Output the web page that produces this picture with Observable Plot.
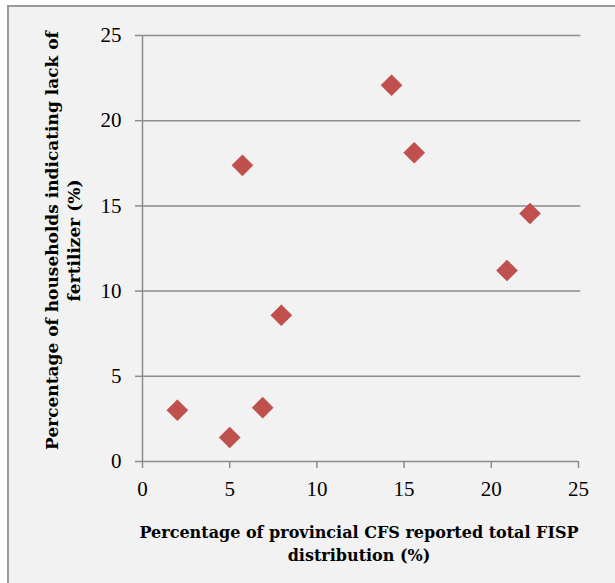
<!DOCTYPE html>
<html>
<head>
<meta charset="utf-8">
<script src="https://cdn.jsdelivr.net/npm/d3@7"></script>
<script src="https://cdn.jsdelivr.net/npm/@observablehq/plot@0.6"></script>
<style>
  html, body { margin: 0; padding: 0; background: #ffffff; }
  #chart { position: relative; width: 615px; height: 583px; }
</style>
</head>
<body>
<div id="chart"></div>
<script>
const distribution = [2.0, 5.0, 5.73, 6.89, 7.96, 14.28, 15.58, 20.9, 22.22];
const lackOfFertilizer = [3.01, 1.41, 17.38, 3.16, 8.58, 22.08, 18.12, 11.21, 14.55];
const xTicks = [0, 5, 10, 15, 20, 25];
const yTicks = [0, 5, 10, 15, 20, 25];
const xLabel = "Percentage of provincial CFS reported total FISP\ndistribution (%)";
const yLabel = "Percentage of households indicating lack of\nfertilizer (%)";

const data = distribution.map((x, i) => ({x, y: lackOfFertilizer[i]}));
const serif = "'Liberation Serif', 'DejaVu Serif', serif";
const labelFont = "'DejaVu Serif', 'Liberation Serif', serif";

const chart = Plot.plot({
  width: 615,
  height: 583,
  marginLeft: 142,
  marginRight: 37,
  marginTop: 35,
  marginBottom: 122,
  style: {fontFamily: serif, fontSize: "21px", background: "transparent", color: "#000"},
  x: {domain: [0, 25], ticks: xTicks, label: null},
  y: {domain: [0, 25], ticks: yTicks, label: null},
  marks: [
    Plot.ruleY(yTicks.filter(d => d > 0), {stroke: "#8c8c8c", strokeWidth: 1.5, x1: 0, x2: 25.13}),
    Plot.ruleX([0], {stroke: "#8c8c8c", strokeWidth: 1.5}),
    Plot.ruleY([0], {stroke: "#8c8c8c", strokeWidth: 1.5}),
    Plot.axisX({ticks: xTicks, tickSize: 7, tickPadding: 13, stroke: "#8c8c8c", strokeWidth: 1.5, fill: "#000", fontSize: 21, label: null}),
    Plot.axisY({ticks: yTicks, tickSize: 7, tickPadding: 14, stroke: "#8c8c8c", strokeWidth: 1.5, fill: "#000", fontSize: 21, label: null}),
    Plot.dot(data, {x: "x", y: "y", symbol: "diamond2", r: 9.5, fill: "#C0504D", stroke: "#b9473f", strokeWidth: 0.5}),
    Plot.text([xLabel], {frameAnchor: "bottom", lineAnchor: "top", textAnchor: "middle", dx: -1.5, dy: 61, fontFamily: labelFont, fontWeight: "bold", fontSize: 16, lineHeight: 1.4, fill: "#000"}),
    Plot.text([yLabel], {frameAnchor: "left", lineAnchor: "top", textAnchor: "middle", rotate: -90, dx: -100, dy: -8, fontFamily: labelFont, fontWeight: "bold", fontSize: 17, lineHeight: 1.3, fill: "#000"})
  ]
});

const svg = d3.select(chart);
svg.insert("rect", ":first-child")
  .attr("x", 8).attr("y", 6)
  .attr("width", 620).attr("height", 590)
  .attr("fill", "#f2f2f2")
  .attr("stroke", "#9a9a9a")
  .attr("stroke-width", 2);

document.getElementById("chart").appendChild(chart);
</script>
</body>
</html>
